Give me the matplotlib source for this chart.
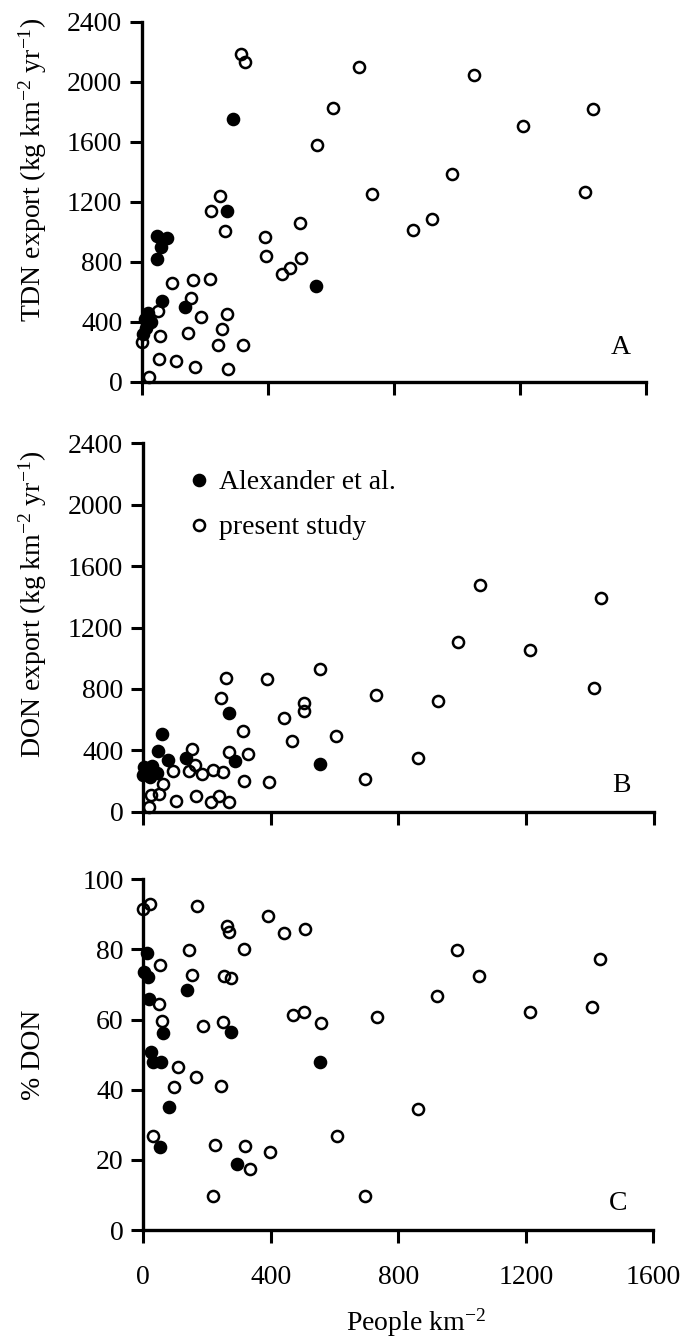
import matplotlib
matplotlib.use("Agg")
import matplotlib.pyplot as plt
from matplotlib.lines import Line2D

plt.rcParams['font.family'] = ['Liberation Serif', 'DejaVu Serif']
plt.rcParams['mathtext.fontset'] = 'custom'
plt.rcParams['mathtext.rm'] = 'Liberation Serif'
plt.rcParams['mathtext.it'] = 'Liberation Serif:italic'

# ---------------- data ----------------
# Panel A: TDN export
a_open_x = [315, 329, 691, 606, 556, 732, 249, 220, 264, 504, 392, 396, 507, 472, 444, 860,
            95, 162, 217, 156, 51, 187, 272, 255, 58, 146, 243, 321, 0, 56, 108, 170, 273, 23,
            1054, 1433, 1209, 985, 921, 1408]
a_open_y = [2185, 2131, 2100, 1827, 1576, 1251, 1238, 1136, 1007, 1060, 963, 840, 825, 756, 718, 1011,
            656, 678, 683, 558, 473, 431, 453, 349, 307, 325, 247, 247, 262, 149, 140, 100, 85, 29,
            2045, 1816, 1707, 1385, 1083, 1265]
a_fill_x = [289, 272, 553, 48, 81, 60, 48, 63, 137, 20, 10, 30, 15, 5]
a_fill_y = [1753, 1140, 638, 971, 956, 900, 816, 540, 496, 460, 420, 400, 360, 320]

# Panel B: DON export
b_open_x = [555, 262, 390, 730, 246, 505, 505, 442, 315, 468, 605, 153, 269, 329, 860, 164, 94, 146,
            185, 220, 252, 317, 394, 696, 63, 52, 25, 105, 168, 213, 240, 271, 20,
            1055, 1434, 986, 1212, 923, 1411]
b_open_y = [932, 871, 866, 760, 739, 710, 656, 610, 524, 463, 495, 408, 389, 378, 348, 304, 267, 265,
            245, 270, 256, 202, 191, 215, 180, 115, 107, 72, 102, 65, 104, 63, 28,
            1477, 1394, 1104, 1053, 723, 804]
b_fill_x = [59, 49, 80, 135, 270, 289, 555, 5, 0, 23, 44, 15, 30]
b_fill_y = [504, 397, 337, 348, 641, 332, 311, 293, 239, 228, 250, 270, 300]

# Panel C: % DON
c_open_x = [0, 21, 167, 392, 263, 270, 441, 506, 143, 317, 52, 154, 253, 274, 50, 58, 186, 251,
            471, 505, 556, 732, 110, 164, 97, 245, 861, 29, 224, 318, 398, 609, 334, 219, 696,
            985, 1054, 922, 1213, 1407, 1433]
c_open_y = [91.4, 92.9, 92.3, 89.4, 86.7, 85.0, 84.7, 85.7, 79.9, 80.0, 75.6, 72.7, 72.3, 71.8, 64.4,
            59.7, 58.3, 59.4, 61.2, 62.2, 59.0, 60.7, 46.6, 43.7, 40.8, 41.2, 34.4, 26.7, 24.1, 23.9,
            22.3, 26.8, 17.4, 9.7, 9.7, 79.8, 72.4, 66.7, 62.1, 63.7, 77.2]
c_fill_x = [11, 2, 16, 138, 19, 63, 23, 31, 55, 82, 52, 274, 554, 293]
c_fill_y = [78.9, 73.7, 72.2, 68.4, 65.8, 56.1, 50.8, 48.0, 48.0, 35.2, 23.6, 56.4, 47.9, 18.7]

x_ticks = [0, 400, 800, 1200, 1600]
export_ticks = [0, 400, 800, 1200, 1600, 2000, 2400]
pct_ticks = [0, 20, 40, 60, 80, 100]
legend_labels = ["Alexander et al.", "present study"]

# ---------------- figure ----------------
W, H = 684, 1337
fig = plt.figure(figsize=(W / 100, H / 100), dpi=100)


def px_axes(l, r, t, b):
    return fig.add_axes([l / W, 1 - b / H, (r - l) / W, (b - t) / H])


axA = px_axes(141.7, 645.7, 21.7, 381.7)
axB = px_axes(142.7, 654.0, 443.3, 811.7)
axC = px_axes(143.3, 653.3, 879.3, 1230.0)

FS = 20
MS = 8.0
MEW = 1.8

panels = [
    (axA, a_open_x, a_open_y, a_fill_x, a_fill_y, (0, 2400), export_ticks),
    (axB, b_open_x, b_open_y, b_fill_x, b_fill_y, (0, 2400), export_ticks),
    (axC, c_open_x, c_open_y, c_fill_x, c_fill_y, (0, 100), pct_ticks),
]

for ax, ox, oy, fx, fy, ylim, yt in panels:
    ax.plot(ox, oy, 'o', ms=MS, mfc='none', mec='black', mew=MEW, ls='none', clip_on=False, zorder=3)
    ax.plot(fx, fy, 'o', ms=MS, mfc='black', mec='black', mew=MEW, ls='none', clip_on=False, zorder=4)
    ax.set_xlim(0, 1600)
    ax.set_ylim(*ylim)
    ax.set_xticks(x_ticks)
    ax.set_yticks(yt)
    for s in ['top', 'right']:
        ax.spines[s].set_visible(False)
    for s in ['left', 'bottom']:
        ax.spines[s].set_linewidth(2.4)
    ax.tick_params(axis='both', direction='out', length=9, width=2.2, labelsize=FS)
    ax.tick_params(axis='y', pad=5)
    ax.tick_params(axis='x', pad=16)
    ax.set_facecolor('none')

axA.set_xticklabels([])
axB.set_xticklabels([])

# y labels
fig.text(33 / W, 1 - 170 / H, "TDN export (kg km$^{-2}$ yr$^{-1}$)", rotation=90,
         ha='center', va='center', fontsize=FS)
fig.text(33 / W, 1 - 604 / H, "DON export (kg km$^{-2}$ yr$^{-1}$)", rotation=90,
         ha='center', va='center', fontsize=FS)
fig.text(33 / W, 1 - 1055 / H, "% DON", rotation=90, ha='center', va='center', fontsize=FS)

# x label
fig.text(416 / W, 1 - 1323 / H, "People km$^{-2}$", ha='center', va='center', fontsize=FS)

# panel letters
fig.text(621 / W, 1 - 348 / H, "A", ha='center', va='center', fontsize=FS)
fig.text(621 / W, 1 - 786 / H, "B", ha='center', va='center', fontsize=FS)
fig.text(618 / W, 1 - 1203 / H, "C", ha='center', va='center', fontsize=FS)

# legend in panel B
handles = [
    Line2D([], [], marker='o', ls='none', ms=MS, mfc='black', mec='black', mew=MEW),
    Line2D([], [], marker='o', ls='none', ms=MS, mfc='none', mec='black', mew=MEW),
]
leg = axB.legend(handles, legend_labels, loc='upper left',
                 bbox_to_anchor=((191 - 142.7) / 511.3, 1 - (470 - 443.3) / 368.4),
                 frameon=False, fontsize=FS, handlelength=0.55, handletextpad=0.45,
                 labelspacing=0.7, borderpad=0, borderaxespad=0)

fig.savefig("out.png", dpi=100)
